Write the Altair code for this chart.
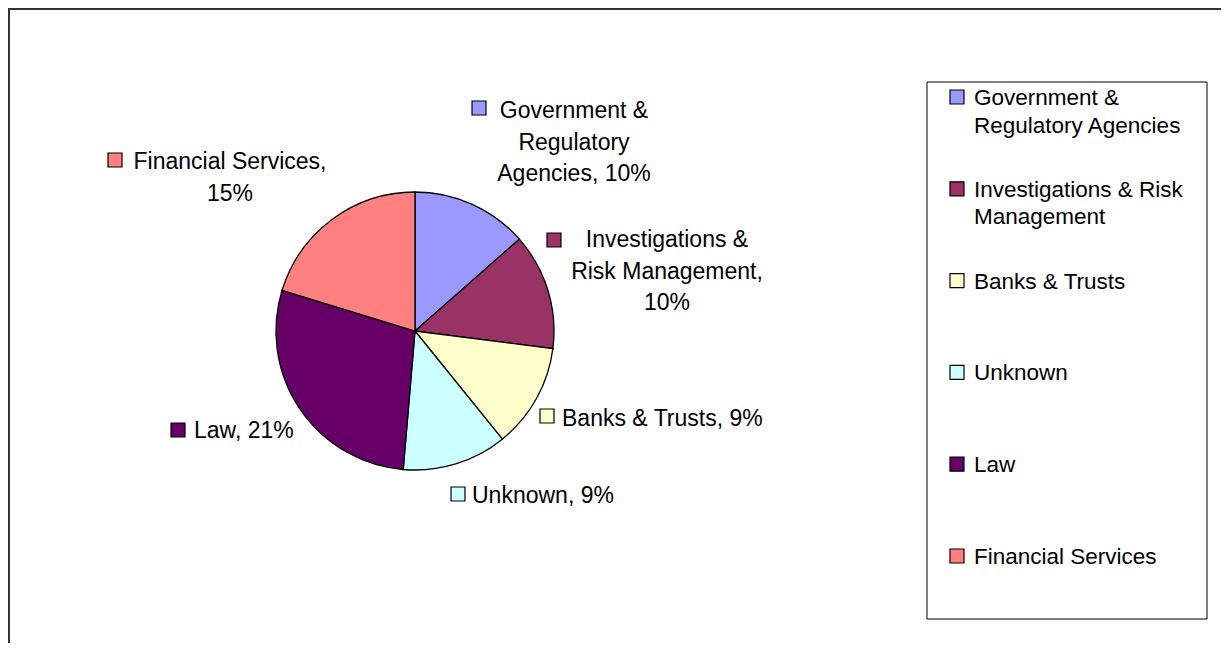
import altair as alt
import pandas as pd

# ---- data ----
categories = [
    "Government & Regulatory Agencies",
    "Investigations & Risk Management",
    "Banks & Trusts",
    "Unknown",
    "Law",
    "Financial Services",
]
percents = [10, 10, 9, 9, 21, 15]
colors = ["#9999FF", "#993366", "#FFFFCC", "#CCFFFF", "#660066", "#FF8080"]
pie_label_text = [
    "Government &\nRegulatory\nAgencies, 10%",
    "Investigations &\nRisk Management,\n10%",
    "Banks & Trusts, 9%",
    "Unknown, 9%",
    "Law, 21%",
    "Financial Services,\n15%",
]
legend_text = [
    "Government &\nRegulatory Agencies",
    "Investigations & Risk\nManagement",
    "Banks & Trusts",
    "Unknown",
    "Law",
    "Financial Services",
]

# ---- layout (pixel positions of annotations, chart coordinates) ----
W, H = 1213, 635
PIE_CX, PIE_CY, PIE_R = 407, 323, 139
FONT = "Liberation Sans"
KEY_SIZE = 196
# key square centre, text anchor x, first baseline y, alignment
label_layout = [
    dict(kx=471, ky=100, tx=566, ty=110, align="center"),
    dict(kx=546, ky=232, tx=659, ty=239, align="center"),
    dict(kx=539, ky=408, tx=554, ty=418, align="left"),
    dict(kx=450, ky=486, tx=464, ty=495, align="left"),
    dict(kx=170, ky=422, tx=186, ty=430, align="left"),
    dict(kx=107, ky=152, tx=222, ty=161, align="center"),
]
LEG_X0, LEG_Y0, LEG_X1, LEG_Y1 = 919, 74, 1199, 611
LEG_KEY_X, LEG_TEXT_X = 949, 966
LEG_FIRST, LEG_STEP = 89, 91.8

color_scale = alt.Scale(domain=categories, range=colors)

pie_df = pd.DataFrame({"cat": categories, "value": percents, "idx": range(len(categories))})

pie = alt.Chart(pie_df).mark_arc(
    outerRadius=PIE_R, stroke="black", strokeWidth=1.3
).encode(
    theta=alt.Theta("value:Q", stack=True),
    color=alt.Color("cat:N", scale=color_scale, legend=None),
    order=alt.Order("idx:Q"),
    x=alt.value(PIE_CX),
    y=alt.value(PIE_CY),
)

lab_df = pd.DataFrame(label_layout)
lab_df["cat"] = categories
lab_df["label"] = pie_label_text

keys = alt.Chart(lab_df).mark_square(
    size=KEY_SIZE, filled=True, stroke="black", strokeWidth=1.2, opacity=1
).encode(
    x=alt.X("kx:Q", scale=None, axis=None),
    y=alt.Y("ky:Q", scale=None, axis=None),
    color=alt.Color("cat:N", scale=color_scale, legend=None),
)


def label_layer(align):
    return alt.Chart(lab_df).transform_filter(
        alt.datum.align == align
    ).mark_text(
        align=align, baseline="alphabetic", font=FONT, fontSize=23,
        lineBreak="\n", lineHeight=31.5, color="black"
    ).encode(
        x=alt.X("tx:Q", scale=None, axis=None),
        y=alt.Y("ty:Q", scale=None, axis=None),
        text="label:N",
    )


leg_df = pd.DataFrame({
    "cat": categories,
    "label": legend_text,
    "ly": [LEG_FIRST + i * LEG_STEP for i in range(len(categories))],
})

leg_box = alt.Chart(alt.Data(values=[{}])).mark_rect(
    fill="white", stroke="black", strokeWidth=1
).encode(
    x=alt.value(LEG_X0), x2=alt.value(LEG_X1),
    y=alt.value(LEG_Y0), y2=alt.value(LEG_Y1),
)

leg_keys = alt.Chart(leg_df).mark_square(
    size=KEY_SIZE, filled=True, stroke="black", strokeWidth=1.2, opacity=1
).encode(
    x=alt.value(LEG_KEY_X),
    y=alt.Y("ly:Q", scale=None, axis=None),
    color=alt.Color("cat:N", scale=color_scale, legend=None),
)

leg_text = alt.Chart(leg_df).mark_text(
    align="left", baseline="alphabetic", dy=8, font=FONT, fontSize=22.5,
    lineBreak="\n", lineHeight=27.6, color="black"
).encode(
    x=alt.value(LEG_TEXT_X),
    y=alt.Y("ly:Q", scale=None, axis=None),
    text="label:N",
)

frame_top = alt.Chart(alt.Data(values=[{}])).mark_rule(color="#333333", strokeWidth=2).encode(
    x=alt.value(0), x2=alt.value(W), y=alt.value(1)
)
frame_left = alt.Chart(alt.Data(values=[{}])).mark_rule(color="#333333", strokeWidth=2).encode(
    x=alt.value(1), y=alt.value(0), y2=alt.value(H)
)

chart = alt.layer(
    frame_top, frame_left, leg_box, pie, keys,
    label_layer("center"), label_layer("left"), leg_keys, leg_text,
).properties(
    width=W, height=H, autosize="none", padding=0
).configure_view(strokeWidth=0)

chart.save("out.html", embed_options={"renderer": "svg", "actions": False})
